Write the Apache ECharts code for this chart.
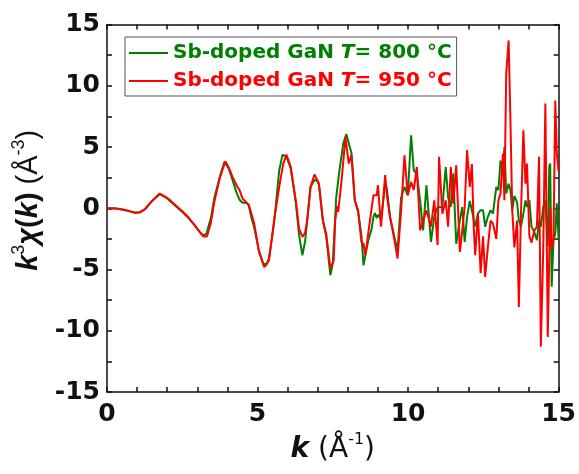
<!DOCTYPE html>
<html>
<head>
<meta charset="utf-8">
<script src="https://cdn.jsdelivr.net/npm/echarts@6/dist/echarts.min.js"></script>
<style>html,body{margin:0;padding:0;background:#fff;}#c{width:579px;height:474px;}</style>
</head>
<body>
<div id="c"></div>
<script>
const seriesNames = ['Sb-doped GaN T= 800 °C', 'Sb-doped GaN T= 950 °C'];
const xTicks = [0, 5, 10, 15];
const yTicks = [-15, -10, -5, 0, 5, 10, 15];

const kGreen = [0,0.3,0.6,0.93,1.1,1.25,1.5,1.75,2.0,2.25,2.5,2.69,2.9,3.1,3.2,3.3,3.45,3.57,3.75,3.9,4.05,4.17,4.3,4.4,4.5,4.6,4.7,4.8,4.89,5.05,5.2,5.3,5.38,5.55,5.72,5.83,5.96,6.1,6.27,6.38,6.49,6.58,6.65,6.76,6.89,6.98,7.04,7.17,7.28,7.42,7.5,7.61,7.72,7.85,7.95,8.03,8.12,8.23,8.34,8.45,8.52,8.6,8.69,8.78,8.85,8.9,8.96,9.02,9.1,9.24,9.3,9.4,9.57,9.65,9.77,9.88,9.99,10.1,10.19,10.29,10.4,10.5,10.61,10.76,10.87,10.98,11.14,11.25,11.33,11.42,11.5,11.6,11.72,11.8,11.88,11.96,12.05,12.12,12.23,12.32,12.41,12.49,12.56,12.65,12.74,12.82,12.93,13.0,13.07,13.15,13.2,13.26,13.34,13.4,13.46,13.53,13.62,13.68,13.75,13.83,13.9,13.95,14.03,14.1,14.2,14.28,14.35,14.41,14.49,14.56,14.64,14.69,14.72,14.77,14.83,14.89,14.94,15.0];
const vGreen = [0,-0.02,-0.15,-0.35,-0.32,-0.1,0.6,1.15,0.8,0.25,-0.3,-0.75,-1.35,-2.0,-2.2,-2.1,-0.8,0.9,2.6,3.8,3.2,2.3,1.3,0.7,0.45,0.45,0.3,-0.8,-1.6,-3.5,-4.6,-4.5,-4.1,-1.2,3.1,4.38,4.2,3.3,0.5,-2.2,-3.84,-2.7,-1.0,1.74,2.3,2.25,1.9,-1.0,-2.3,-5.47,-4.5,0.8,3.1,5.3,6.05,5.3,4.5,0.65,-0.3,-2.2,-4.66,-3.6,-2.5,-1.8,-0.7,-0.4,-0.8,-0.5,-1.0,2.0,1.5,-0.7,-2.6,-3.5,0.9,1.74,1.06,5.96,3.1,2.8,0.65,-1.8,1.88,-2.75,-0.7,0.1,0.1,3.37,0.9,0.1,2.83,-2.9,-1.0,0.1,-2.75,-0.7,0.6,-0.16,-1.5,-0.44,-0.16,-0.16,-1.5,-0.7,-0.16,-0.44,1.74,1.47,3.9,3.1,5.0,1.2,2.0,1.47,-0.16,1.0,0.5,-0.98,-1.5,-0.44,0.65,0.1,0.65,-1.5,-2.0,-2.6,-1.0,-1.5,0.1,0.65,-3.1,3.4,3.65,-6.4,-2.7,-2.0,0.4,-2.5];

const kRed = [0,0.3,0.6,0.93,1.1,1.25,1.5,1.75,2.0,2.25,2.5,2.69,2.9,3.1,3.2,3.32,3.45,3.57,3.75,3.93,4.05,4.17,4.32,4.4,4.5,4.6,4.67,4.72,4.89,5.05,5.22,5.3,5.38,5.55,5.72,5.85,5.96,6.1,6.27,6.38,6.49,6.58,6.65,6.76,6.89,7.04,7.17,7.28,7.42,7.53,7.58,7.61,7.65,7.68,7.72,7.8,7.92,8.03,8.12,8.23,8.34,8.45,8.52,8.58,8.69,8.8,8.85,8.96,9.0,9.1,9.24,9.3,9.4,9.57,9.65,9.77,9.88,9.99,10.1,10.19,10.29,10.4,10.5,10.61,10.76,10.87,10.98,11.03,11.14,11.25,11.33,11.42,11.5,11.6,11.72,11.8,11.88,11.96,12.05,12.12,12.18,12.23,12.32,12.41,12.49,12.56,12.65,12.74,12.82,12.93,13.0,13.07,13.15,13.2,13.26,13.34,13.4,13.46,13.53,13.62,13.68,13.75,13.83,13.9,13.95,14.03,14.1,14.2,14.28,14.35,14.41,14.49,14.56,14.64,14.72,14.77,14.83,14.89,14.94,15.0];
const vRed = [0,-0.02,-0.15,-0.38,-0.32,-0.1,0.6,1.2,0.85,0.3,-0.25,-0.7,-1.35,-2.0,-2.3,-2.3,-1.2,0.6,2.5,3.84,3.3,2.56,1.8,1.5,0.8,0.55,0.38,0.2,-1.25,-3.57,-4.8,-4.6,-4.25,-1.0,1.74,3.6,4.38,3.4,0.65,-1.66,-2.34,-2.0,-0.98,1.74,2.75,2.0,-1.0,-2.07,-4.93,-4.25,-1.0,-0.44,0.2,-0.3,-0.16,2.5,5.83,3.65,4.33,0.65,-0.16,-2.75,-2.9,-3.84,-1.8,0.2,1.06,1.06,1.88,-1.5,2.7,1.0,-0.7,-2.9,-4.1,-0.16,4.33,1.06,2.15,1.5,3.37,-1.8,-1.0,-0.16,-1.5,0.65,-3.0,4.2,-0.44,0.65,-1.5,3.37,0.38,3.5,-3.57,-1.8,0.1,4.74,1.74,3.6,-1.5,-3.84,-0.44,-5.3,-2.3,-5.6,-3.2,-1.0,-1.25,-2.5,0.65,1.2,4.47,0.65,11.0,13.7,7.2,-0.16,-3.2,-1.0,-8.06,-0.44,6.37,2.0,3.65,-2.3,-2.8,-1.8,-1.5,4.2,-11.3,-3.3,8.55,-10.5,0.1,-3.3,-2.5,8.8,4.5,3.0];

const pairs = (ks, vs) => ks.map((k, i) => [k, vs[i]]);
const WIDE = '"DejaVu Sans", sans-serif';
const NARROW = '"Liberation Sans", Arial, sans-serif';
const chart = echarts.init(document.getElementById('c'), null, {renderer: 'canvas'});

function axisBase(extra) {
  return Object.assign({
    type: 'value',
    show: true,
    axisLine: {show: true, onZero: false, lineStyle: {color: '#111', width: 1.5}},
    axisTick: {show: true, inside: true, length: 5, lineStyle: {color: '#111', width: 1.5}},
    splitLine: {show: false}
  }, extra);
}
const minorX = {show: true, splitNumber: 5, length: 5, lineStyle: {color: '#111', width: 1.5}};
const minorY = {show: true, splitNumber: 2, length: 5, lineStyle: {color: '#111', width: 1.5}};

const legendRich = {};
[['g', '#008000'], ['r', '#ff0000']].forEach(([key, col]) => {
  legendRich[key] = {color: col, fontFamily: WIDE, fontWeight: 'bold', fontSize: 20};
  legendRich[key + 'i'] = {color: col, fontFamily: WIDE, fontWeight: 'bold', fontStyle: 'italic', fontSize: 20};
});

chart.setOption({
  animation: false,
  backgroundColor: '#fff',
  grid: {left: 107, right: 18, top: 24.5, bottom: 82, containLabel: false},
  legend: {
    left: 125, top: 37,
    orient: 'vertical',
    data: seriesNames,
    itemWidth: 39, itemHeight: 20, itemGap: 8,
    padding: [6, 5, 5, 3],
    borderColor: '#555', borderWidth: 1,
    itemStyle: {opacity: 0},
    formatter: function (name) {
      const g = name === seriesNames[0] ? 'g' : 'r';
      const m = name.split('T=');
      return '{' + g + '|' + m[0] + '}{' + g + 'i|T}{' + g + '|=' + m[1] + '}';
    },
    textStyle: {fontFamily: WIDE, fontWeight: 'bold', fontSize: 20, rich: legendRich}
  },
  xAxis: [
    axisBase({
      position: 'bottom',
      min: xTicks[0], max: xTicks[xTicks.length - 1], interval: 5,
      minorTick: minorX,
      axisLabel: {show: true, margin: 10, color: '#111', fontFamily: WIDE, fontWeight: 'bold', fontSize: 25},
      name: '{i|k}{n| (Å}{s|-1}{n|)}',
      nameLocation: 'middle', nameGap: 33,
      nameTextStyle: {
        color: '#111',
        rich: {
          i: {fontFamily: WIDE, fontWeight: 'bold', fontStyle: 'italic', fontSize: 28, lineHeight: 32, verticalAlign: 'bottom', color: '#111'},
          n: {fontFamily: WIDE, fontSize: 28, lineHeight: 32, verticalAlign: 'bottom', color: '#111'},
          s: {fontFamily: WIDE, fontSize: 16, lineHeight: 32, verticalAlign: 'top', color: '#111'}
        }
      }
    }),
    axisBase({
      position: 'top', min: xTicks[0], max: xTicks[xTicks.length - 1], interval: 5,
      minorTick: minorX, axisLabel: {show: false}
    })
  ],
  yAxis: [
    axisBase({
      position: 'left',
      min: yTicks[0], max: yTicks[yTicks.length - 1], interval: 5,
      minorTick: minorY,
      axisLabel: {show: true, margin: 7, color: '#111', fontFamily: WIDE, fontWeight: 'bold', fontSize: 25},
      name: '{i|k}{s|3}{i|χ}{b|(}{i|k}{b|)}{n| (Å}{s|-3}{n|)}',
      nameLocation: 'middle', nameGap: 60, nameRotate: 90,
      nameTextStyle: {
        color: '#111',
        padding: [0, 0, 0, 16],
        rich: {
          i: {fontFamily: NARROW, fontWeight: 'bold', fontStyle: 'italic', fontSize: 29, lineHeight: 34, verticalAlign: 'bottom', color: '#111'},
          b: {fontFamily: NARROW, fontWeight: 'bold', fontSize: 29, lineHeight: 34, verticalAlign: 'bottom', color: '#111'},
          n: {fontFamily: NARROW, fontSize: 29, lineHeight: 34, verticalAlign: 'bottom', color: '#111'},
          s: {fontFamily: NARROW, fontSize: 18, lineHeight: 34, verticalAlign: 'top', color: '#111'}
        }
      }
    }),
    axisBase({
      position: 'right', min: yTicks[0], max: yTicks[yTicks.length - 1], interval: 5,
      minorTick: minorY, axisLabel: {show: false}
    })
  ],
  series: [
    {
      name: seriesNames[0], type: 'line', xAxisIndex: 0, yAxisIndex: 0,
      data: pairs(kGreen, vGreen), showSymbol: false, symbol: 'none',
      lineStyle: {color: '#008000', width: 2}, itemStyle: {color: '#008000'}, z: 2
    },
    {
      name: seriesNames[1], type: 'line', xAxisIndex: 0, yAxisIndex: 0,
      data: pairs(kRed, vRed), showSymbol: false, symbol: 'none',
      lineStyle: {color: '#ff0000', width: 2}, itemStyle: {color: '#ff0000'}, z: 3
    },
    {
      name: 'frame', type: 'line', xAxisIndex: 1, yAxisIndex: 1,
      data: [], silent: true, showSymbol: false
    }
  ]
});
</script>
</body>
</html>
